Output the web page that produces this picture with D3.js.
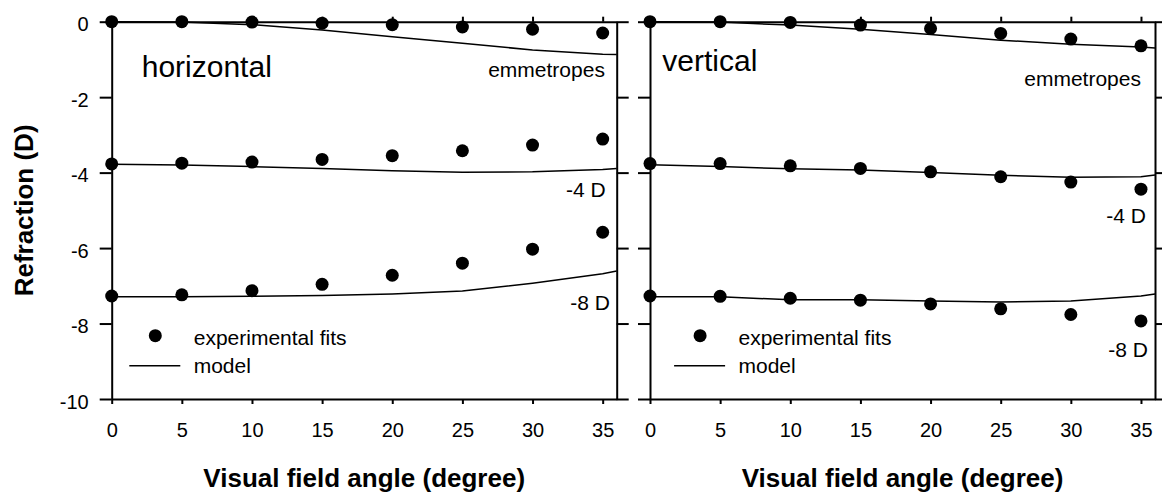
<!DOCTYPE html>
<meta charset="utf-8">
<style>
body{margin:0;background:#fff;}
text{font-family:"Liberation Sans",Arial,sans-serif;fill:#000;}
.tick text{font-size:20px;}
.axis path,.axis line{stroke:#000;stroke-width:2px;}
.model{fill:none;stroke:#000;stroke-width:1.5px;}
.note{font-size:21px;}
.title{font-size:30px;}
.axtitle{font-size:26px;font-weight:bold;}
</style>
<body>
<script src="https://cdn.jsdelivr.net/npm/d3@7"></script>
<script>

// visual field angles of the experimental fits and of the model curves
var angles = [0,5,10,15,20,25,30,35];
var modelAngles = [0,5,10,15,20,25,30,35,36];
var xTicks = [0,5,10,15,20,25,30,35];
var yTicks = [0,-2,-4,-6,-8,-10];

// horizontal meridian
var hEmmFit = [0,0,-0.01,-0.04,-0.08,-0.14,-0.2,-0.3];
var hM4Fit  = [-3.77,-3.75,-3.72,-3.65,-3.55,-3.42,-3.27,-3.11];
var hM8Fit  = [-7.27,-7.24,-7.13,-6.96,-6.72,-6.40,-6.03,-5.58];
var hEmmModel = [0,-0.01,-0.08,-0.22,-0.4,-0.57,-0.75,-0.86,-0.87];
var hM4Model  = [-3.78,-3.80,-3.84,-3.89,-3.95,-3.99,-3.98,-3.92,-3.89];
var hM8Model  = [-7.29,-7.29,-7.28,-7.26,-7.22,-7.14,-6.93,-6.68,-6.61];

// vertical meridian
var vEmmFit = [0,0,-0.02,-0.09,-0.18,-0.31,-0.46,-0.64];
var vM4Fit  = [-3.76,-3.76,-3.82,-3.89,-3.98,-4.11,-4.25,-4.44];
var vM8Fit  = [-7.27,-7.28,-7.33,-7.38,-7.48,-7.61,-7.76,-7.93];
var vEmmModel = [0,-0.01,-0.09,-0.2,-0.34,-0.49,-0.6,-0.67,-0.7];
var vM4Model  = [-3.79,-3.84,-3.9,-3.93,-4.0,-4.07,-4.12,-4.11,-4.06];
var vM8Model  = [-7.29,-7.29,-7.37,-7.37,-7.4,-7.43,-7.40,-7.27,-7.22];

var groupLabels = ["emmetropes","-4 D","-8 D"];

var W = 505, H = 377.3;
var svg = d3.select("body").append("svg").attr("width",1162).attr("height",492);

var x = d3.scaleLinear().domain([0,36]).range([0,W]);
var y = d3.scaleLinear().domain([-10,0]).range([H,0]);
var plain = d => String(d);

var panels = [
	{left:111.7, title:"horizontal", tx:2.14, ty:-1.474, yLabels:true,
	 fits:[hEmmFit,hM4Fit,hM8Fit], models:[hEmmModel,hM4Model,hM8Model],
	 notes:[[35.16,-1.474],[35.21,-4.638],[35.52,-7.641]], leg:0},
	{left:650, title:"vertical", tx:0.88, ty:-1.3, yLabels:false,
	 fits:[vEmmFit,vM4Fit,vM8Fit], models:[vEmmModel,vM4Model,vM8Model],
	 notes:[[35.0,-1.704],[35.35,-5.327],[35.5,-8.895]], leg:6.5}
];

var line = d3.line().x(d=>x(d[0])).y(d=>y(d[1]));

panels.forEach(function(p){
	var g = svg.append("g").attr("transform","translate("+p.left+",21.7)");

	g.append("g").attr("class","axis")
		.call(d3.axisLeft(y).tickValues(yTicks).tickSize(12).tickSizeOuter(0).tickPadding(11)
			.tickFormat(p.yLabels ? plain : ""))
		.selectAll("text").attr("dy","0.45em");
	g.append("g").attr("class","axis").attr("transform","translate("+W+",0)")
		.call(d3.axisRight(y).tickValues(yTicks).tickSize(12).tickSizeOuter(0).tickFormat(""));
	g.append("g").attr("class","axis").attr("transform","translate(0,"+H+")")
		.call(d3.axisBottom(x).tickValues(xTicks).tickSize(5).tickSizeOuter(0).tickPadding(19).tickFormat(plain));
	g.append("g").attr("class","axis")
		.call(d3.axisTop(x).tickValues(xTicks).tickSize(5).tickSizeOuter(0).tickFormat(""));
	g.selectAll(".tick text").style("font-size","20px");

	p.models.forEach(function(m){
		g.append("path").attr("class","model")
			.attr("d",line(modelAngles.map((a,i)=>[a,m[i]])));
	});
	p.fits.forEach(function(f){
		g.selectAll(null).data(angles.map((a,i)=>[a,f[i]])).enter()
			.append("circle").attr("cx",d=>x(d[0])).attr("cy",d=>y(d[1])).attr("r",6.5);
	});

	p.notes.forEach(function(n,i){
		g.append("text").attr("class","note").attr("text-anchor","end")
			.attr("x",x(n[0])).attr("y",y(n[1])).text(groupLabels[i]);
	});
	g.append("text").attr("class","title").attr("x",x(p.tx)).attr("y",y(p.ty)).text(p.title);

	// legend
	var lg = g.append("g").attr("transform","translate("+p.leg+",0)");
	lg.append("circle").attr("cx",43.6).attr("cy",314).attr("r",6.5);
	lg.append("text").attr("class","note").attr("x",82).attr("y",323.3).text("experimental fits");
	lg.append("line").attr("x1",17.6).attr("x2",68.6).attr("y1",344).attr("y2",344)
		.attr("stroke","#000").attr("stroke-width",1.5);
	lg.append("text").attr("class","note").attr("x",82).attr("y",351.6).text("model");

	g.append("text").attr("class","axtitle").attr("text-anchor","middle")
		.attr("x",W/2).attr("y",465.3).text("Visual field angle (degree)");
});

svg.append("text").attr("class","axtitle").attr("text-anchor","middle")
	.attr("transform","translate(33,210.4) rotate(-90)").text("Refraction (D)");

</script>
</body>
